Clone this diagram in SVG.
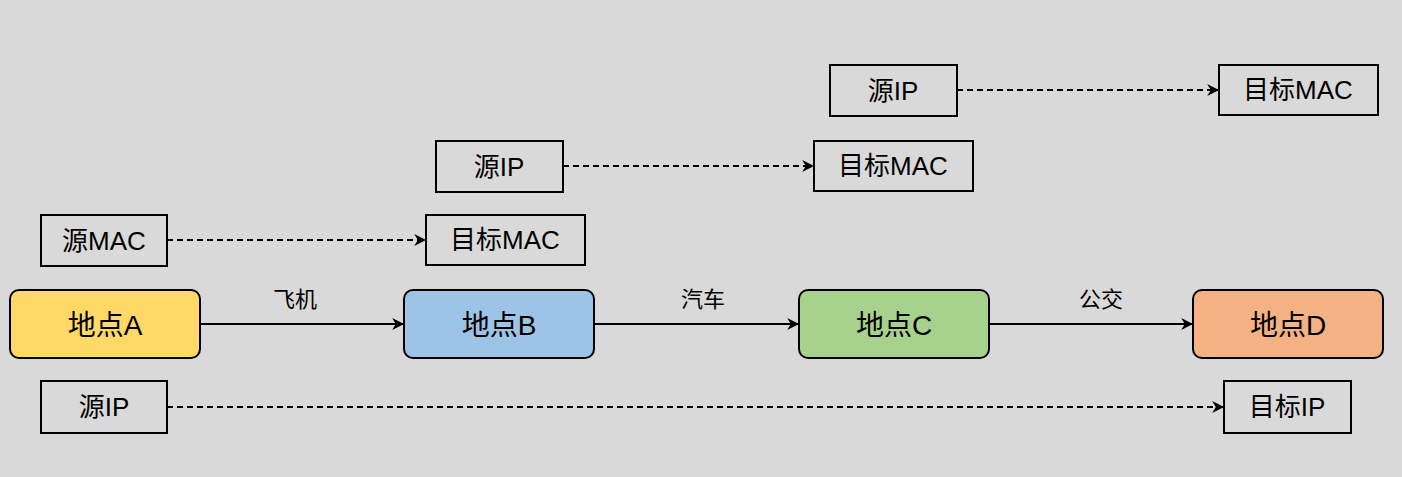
<svg xmlns="http://www.w3.org/2000/svg" width="1402" height="477" viewBox="0 0 1402 477">
<style>
text{font-family:"Liberation Sans","Noto Sans CJK SC",sans-serif;fill:#000;text-anchor:middle;dominant-baseline:central}
.n{stroke:#000;stroke-width:2}
.n text{font-size:28px;stroke:none}
.b rect{fill:none;stroke:#000;stroke-width:2}
.b text{font-size:26px}
.s{stroke:#000;stroke-width:2;fill:none}
.d{stroke-dasharray:6 4}
.l{font-size:22px}
</style>
<defs><marker id="a" viewBox="0 0 10 10" refX="9" refY="5" markerWidth="6" markerHeight="6" orient="auto"><path d="M0,0L10,5L0,10L3,5z" fill="#000"/></marker></defs>
<rect width="1402" height="477" fill="#d9d9d9"/>
<g id="nA" class="n"><rect x="10" y="290" width="190" height="68" rx="9" fill="#ffd966"/><text x="105" y="325">地点A</text></g>
<g id="nB" class="n"><rect x="404" y="290" width="190" height="68" rx="9" fill="#9dc3e6"/><text x="499" y="325">地点B</text></g>
<g id="nC" class="n"><rect x="799" y="290" width="190" height="68" rx="9" fill="#a9d18e"/><text x="894" y="325">地点C</text></g>
<g id="nD" class="n"><rect x="1193" y="290" width="190" height="68" rx="9" fill="#f4b183"/><text x="1288" y="325">地点D</text></g>
<g id="b1" class="b"><rect x="41" y="215" width="126" height="51"/><text x="104" y="241">源MAC</text></g>
<g id="b2" class="b"><rect x="426" y="215" width="159" height="50"/><text x="505" y="240">目标MAC</text></g>
<g id="b3" class="b"><rect x="436" y="141" width="127" height="51"/><text x="499" y="167">源IP</text></g>
<g id="b4" class="b"><rect x="814" y="141" width="159" height="50"/><text x="893" y="166">目标MAC</text></g>
<g id="b5" class="b"><rect x="830" y="65" width="127" height="51"/><text x="893" y="91">源IP</text></g>
<g id="b6" class="b"><rect x="1219" y="65" width="159" height="50"/><text x="1298" y="90">目标MAC</text></g>
<g id="b7" class="b"><rect x="41" y="381" width="126" height="52"/><text x="104" y="407">源IP</text></g>
<g id="b8" class="b"><rect x="1224" y="381" width="127" height="52"/><text x="1287" y="407">目标IP</text></g>
<g id="edges">
<path class="s" d="M200,324H403" marker-end="url(#a)"/>
<path class="s" d="M594,324H798" marker-end="url(#a)"/>
<path class="s" d="M989,324H1192" marker-end="url(#a)"/>
<text class="l" x="295" y="299">飞机</text>
<text class="l" x="703" y="299">汽车</text>
<text class="l" x="1101" y="299">公交</text>
<path class="s d" d="M167,240H425" marker-end="url(#a)"/>
<path class="s d" d="M563,166H813" marker-end="url(#a)"/>
<path class="s d" d="M957,90H1218" marker-end="url(#a)"/>
<path class="s d" d="M167,407H1223" marker-end="url(#a)"/>
</g>
</svg>
